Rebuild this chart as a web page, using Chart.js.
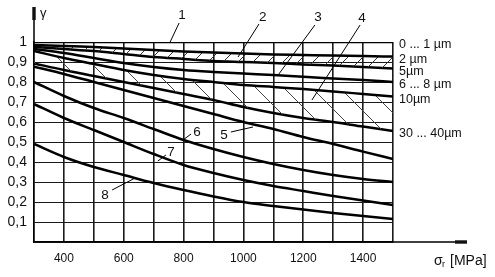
<!DOCTYPE html>
<html>
<head>
<meta charset="utf-8">
<script src="https://cdn.jsdelivr.net/npm/chart.js@4.4.0/dist/chart.umd.min.js"></script>
<style>
html, body { margin: 0; padding: 0; background: #fff; }
</style>
</head>
<body>
<canvas id="mycanvas" width="495" height="277"></canvas>
<script>
// stress sigma_r [MPa] and gamma values
var stress = [300, 400, 500, 600, 700, 800, 900, 1000, 1100, 1200, 1300, 1400, 1500];

var g0_1um   = [1, 1, 1, 1, 1, 1, 1, 1, 1, 1, 1, 1, 1];
var g2um     = [0.985, 0.98, 0.975, 0.968, 0.96, 0.953, 0.947, 0.942, 0.938, 0.935, 0.932, 0.93, 0.927];
var g5um     = [0.975, 0.965, 0.955, 0.94, 0.925, 0.915, 0.905, 0.9, 0.895, 0.888, 0.882, 0.875, 0.868];
var g6_8um   = [0.965, 0.945, 0.92, 0.895, 0.875, 0.86, 0.85, 0.842, 0.835, 0.826, 0.818, 0.81, 0.80];
var g10um    = [0.955, 0.92, 0.89, 0.86, 0.835, 0.815, 0.8, 0.785, 0.775, 0.765, 0.753, 0.74, 0.727];
var g30_40um = [0.893, 0.86, 0.83, 0.80, 0.77, 0.74, 0.71, 0.675, 0.645, 0.62, 0.60, 0.577, 0.555];
var g5       = [0.877, 0.84, 0.80, 0.76, 0.72, 0.68, 0.64, 0.60, 0.565, 0.525, 0.49, 0.452, 0.415];
var g6       = [0.80, 0.73, 0.67, 0.62, 0.565, 0.51, 0.465, 0.425, 0.39, 0.36, 0.335, 0.315, 0.30];
var g7       = [0.69, 0.62, 0.56, 0.50, 0.44, 0.385, 0.345, 0.31, 0.28, 0.255, 0.23, 0.207, 0.185];
var g8       = [0.49, 0.425, 0.375, 0.335, 0.295, 0.26, 0.228, 0.20, 0.18, 0.162, 0.145, 0.13, 0.115];

var rightLabels = ['0 ... 1 \u00b5m', '2 \u00b5m', '5\u00b5m', '6 ... 8 \u00b5m', '10\u00b5m', '30 ... 40\u00b5m'];

// curve numbers: text position and leader line, in axis units
var notes = [
  { t: '1', x: 795,  y: 1.135, x1: 785,  y1: 1.095, x2: 755,  y2: 1.0 },
  { t: '2', x: 1065, y: 1.125, x1: 1052, y1: 1.09,  x2: 982,  y2: 0.925 },
  { t: '3', x: 1249, y: 1.125, x1: 1239, y1: 1.085, x2: 1116, y2: 0.835 },
  { t: '4', x: 1396, y: 1.12,  x1: 1390, y1: 1.085, x2: 1229, y2: 0.71 },
  { t: '5', x: 935,  y: 0.535, x1: 958,  y1: 0.55,  x2: 1032, y2: 0.575 },
  { t: '6', x: 845,  y: 0.55,  x1: 825,  y1: 0.54,  x2: 798,  y2: 0.51 },
  { t: '7', x: 758,  y: 0.45,  x1: 741,  y1: 0.435, x2: 714,  y2: 0.405 },
  { t: '8', x: 537,  y: 0.235, x1: 561,  y1: 0.26,  x2: 638,  y2: 0.32 }
];

function pts(arr) {
  return stress.map(function(s, i) { return { x: s, y: arr[i] }; });
}

function hatch(w, h, up, color) {
  var c = document.createElement('canvas');
  c.width = w; c.height = h;
  var g = c.getContext('2d');
  g.strokeStyle = color;
  g.lineWidth = 1;
  g.beginPath();
  for (var k = -1; k <= 1; k++) {
    if (up) { g.moveTo(k * w, h); g.lineTo(k * w + w, 0); }
    else { g.moveTo(k * w, 0); g.lineTo(k * w + w, h); }
  }
  g.stroke();
  return g.createPattern(c, 'repeat');
}

var ctx = document.getElementById('mycanvas').getContext('2d');

function line(arr, extra) {
  var d = {
    data: pts(arr),
    borderColor: '#000',
    borderWidth: 2.5,
    pointRadius: 0,
    fill: false,
    cubicInterpolationMode: 'monotone'
  };
  for (var k in extra) d[k] = extra[k];
  return d;
}

var extras = {
  id: 'extras',
  afterDraw: function(chart) {
    var c = chart.ctx, a = chart.chartArea;
    var xs = chart.scales.x, ys = chart.scales.y;
    c.save();
    c.strokeStyle = '#000';
    c.fillStyle = '#111';

    // axis extensions with heavy ends
    c.lineWidth = 1.5;
    c.beginPath();
    c.moveTo(a.left, a.top); c.lineTo(a.left, 7);
    c.moveTo(a.right, a.bottom); c.lineTo(467, a.bottom);
    c.stroke();
    c.fillRect(a.left - 1.7, 7, 3.4, 13);
    c.fillRect(455, a.bottom - 1.7, 12, 3.4);

    // axis titles
    c.font = '13px "Liberation Sans", Arial, sans-serif';
    c.textBaseline = 'middle';
    c.textAlign = 'left';
    c.fillText('\u03b3', 40, 13);
    c.font = '14px "Liberation Sans", Arial, sans-serif';
    c.fillText('\u03c3', 434, 261);
    c.font = '9px "Liberation Sans", Arial, sans-serif';
    c.fillText('r', 442, 265);
    c.font = '14px "Liberation Sans", Arial, sans-serif';
    c.fillText('[MPa]', 450, 261);

    // labels at the curve ends
    c.font = '12.5px "Liberation Sans", Arial, sans-serif';
    var ends = [g0_1um, g2um, g5um, g6_8um, g10um, g30_40um];
    for (var i = 0; i < ends.length; i++) {
      var yv = ends[i][ends[i].length - 1];
      c.fillText(rightLabels[i], a.right + 6, ys.getPixelForValue(yv) + 3);
    }

    // numbered leaders
    c.lineWidth = 1;
    c.font = '13.5px "Liberation Sans", Arial, sans-serif';
    c.textAlign = 'center';
    notes.forEach(function(n) {
      c.beginPath();
      c.moveTo(xs.getPixelForValue(n.x1), ys.getPixelForValue(n.y1));
      c.lineTo(xs.getPixelForValue(n.x2), ys.getPixelForValue(n.y2));
      c.stroke();
      c.fillText(n.t, xs.getPixelForValue(n.x), ys.getPixelForValue(n.y));
    });
    c.restore();
  }
};

var chart = new Chart(ctx, {
  type: 'line',
  data: {
    datasets: [
      line(g0_1um),
      line(g2um, { fill: '+1', backgroundColor: hatch(15, 15, true, '#333') }),
      line(g5um),
      line(g6_8um),
      line(g10um, { fill: '+1', backgroundColor: hatch(28, 28, false, '#444') }),
      line(g30_40um),
      line(g5),
      line(g6),
      line(g7),
      line(g8)
    ]
  },
  options: {
    responsive: false,
    animation: false,
    devicePixelRatio: 1,
    layout: { padding: { left: 0, right: 102, top: 42, bottom: 0 } },
    plugins: {
      legend: { display: false },
      tooltip: { enabled: false }
    },
    scales: {
      x: {
        type: 'linear',
        min: 300,
        max: 1500,
        afterFit: function(s) { s.height = 35; },
        grid: { color: '#1a1a1a', lineWidth: 1.6, drawTicks: false },
        border: { display: true, color: '#000', width: 1.5 },
        ticks: {
          stepSize: 100,
          autoSkip: false,
          maxRotation: 0,
          padding: 9,
          color: '#111',
          font: { family: '"Liberation Sans", Arial, sans-serif', size: 12 },
          callback: function(v) { return (v % 200 === 0 && v < 1500) ? String(v) : ''; }
        }
      },
      y: {
        min: 0,
        max: 1,
        afterFit: function(s) { s.width = 34; },
        grid: { color: '#1a1a1a', lineWidth: 1, drawTicks: false },
        border: { display: true, color: '#000', width: 1.5 },
        ticks: {
          stepSize: 0.1,
          padding: 7,
          color: '#111',
          font: { family: '"Liberation Sans", Arial, sans-serif', size: 14 },
          callback: function(v) {
            if (v < 0.05) return '';
            if (v > 0.95) return '1';
            return v.toFixed(1).replace('.', ',');
          }
        }
      }
    }
  },
  plugins: [extras]
});
</script>
</body>
</html>
